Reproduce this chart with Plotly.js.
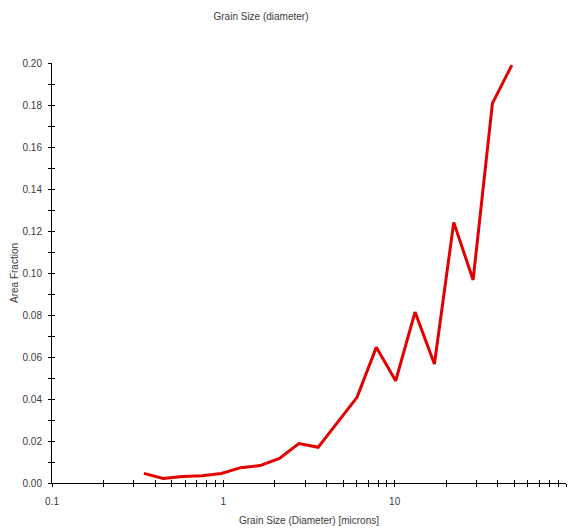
<!DOCTYPE html>
<html>
<head>
<meta charset="utf-8">
<script src="https://cdn.plot.ly/plotly-3.0.1.min.js"></script>
<style>
  html, body { margin: 0; padding: 0; background: #ffffff; }
  #chart { width: 574px; height: 529px; }
</style>
</head>
<body>
<div id="chart"></div>
<script>
// Grain size distribution: bin diameter (microns) vs. area fraction
const grainDiameter = [0.344, 0.446, 0.578, 0.750, 0.973, 1.263, 1.638, 2.126, 2.758, 3.576,
                       4.64, 6.03, 7.81, 10.14, 13.15, 17.06, 22.13, 28.7, 37.2, 48.3];
const areaFraction = [0.0046, 0.0022, 0.0031, 0.0035, 0.0045, 0.0073, 0.0083, 0.0117, 0.0188, 0.0170,
                      0.0289, 0.0408, 0.0646, 0.0487, 0.0814, 0.0567, 0.1241, 0.0967, 0.1808, 0.1990];

// Log-axis tick positions (1..9 per decade) and their labels
const xTickVals = [0.1, 0.2, 0.3, 0.4, 0.5, 0.6, 0.7, 0.8, 0.9,
                   1, 2, 3, 4, 5, 6, 7, 8, 9,
                   10, 20, 30, 40, 50, 60, 70, 80, 90, 100];
const xTickText = ["0.1", "", "", "", "", "", "", "", "",
                   "1", "", "", "", "", "", "", "", "",
                   "10", "", "", "", "", "", "", "", "", "100"];
const yTickVals = [0, 0.01, 0.02, 0.03, 0.04, 0.05, 0.06, 0.07, 0.08, 0.09, 0.10,
                   0.11, 0.12, 0.13, 0.14, 0.15, 0.16, 0.17, 0.18, 0.19, 0.20];
const yTickText = ["0.00", "", "0.02", "", "0.04", "", "0.06", "", "0.08", "", "0.10",
                   "", "0.12", "", "0.14", "", "0.16", "", "0.18", "", "0.20"];

const tickFont = { family: "Liberation Sans, Arial, sans-serif", size: 10, color: "#3a3a3a" };
const labelFont = { family: "Liberation Sans, Arial, sans-serif", size: 10, color: "#3a3a3a" };

const traces = [
  {
    x: grainDiameter,
    y: areaFraction,
    type: "scatter",
    mode: "lines",
    line: { color: "#e30000", width: 3 },
    showlegend: false,
    hoverinfo: "x+y"
  },
  {
    // empty trace so the overlay axes (inner half of the crossing ticks) get drawn
    x: [], y: [],
    xaxis: "x2", yaxis: "y2",
    type: "scatter", mode: "lines",
    showlegend: false, hoverinfo: "skip"
  }
];

const layout = {
  width: 574,
  height: 529,
  paper_bgcolor: "#ffffff",
  plot_bgcolor: "#ffffff",
  margin: { l: 52, r: 8, t: 63, b: 46 },
  title: {
    text: "Grain Size (diameter)",
    font: labelFont,
    xref: "container", yref: "container",
    x: 261 / 574, xanchor: "center",
    y: 1 - 16 / 529, yanchor: "middle"
  },
  xaxis: {
    type: "log",
    range: [-1, 2],
    tickmode: "array",
    tickvals: xTickVals,
    ticktext: xTickText,
    ticks: "outside",
    ticklen: 3,
    tickwidth: 1,
    tickcolor: "#000000",
    ticklabelstandoff: 6,
    tickfont: tickFont,
    showline: true,
    linecolor: "#000000",
    linewidth: 1,
    showgrid: false,
    zeroline: false,
    title: { text: "Grain Size (Diameter) [microns]", font: labelFont, standoff: 10 }
  },
  yaxis: {
    range: [0, 0.2],
    tickmode: "array",
    tickvals: yTickVals,
    ticktext: yTickText,
    ticks: "outside",
    ticklen: 3,
    tickwidth: 1,
    tickcolor: "#000000",
    ticklabelstandoff: 4,
    tickfont: tickFont,
    showline: true,
    linecolor: "#000000",
    linewidth: 1,
    showgrid: false,
    zeroline: false,
    title: { text: "Area Fraction", font: labelFont, standoff: 2 }
  },
  xaxis2: {
    type: "log",
    range: [-1, 2],
    overlaying: "x",
    anchor: "y2",
    side: "bottom",
    tickmode: "array",
    tickvals: xTickVals,
    ticks: "inside",
    ticklen: 3,
    tickwidth: 1,
    tickcolor: "#000000",
    showticklabels: false,
    showline: false,
    showgrid: false,
    zeroline: false
  },
  yaxis2: {
    range: [0, 0.2],
    overlaying: "y",
    anchor: "x2",
    side: "left",
    tickmode: "array",
    tickvals: yTickVals,
    ticks: "inside",
    ticklen: 3,
    tickwidth: 1,
    tickcolor: "#000000",
    showticklabels: false,
    showline: false,
    showgrid: false,
    zeroline: false
  }
};

Plotly.newPlot("chart", traces, layout, { displayModeBar: false, staticPlot: true });
</script>
</body>
</html>
